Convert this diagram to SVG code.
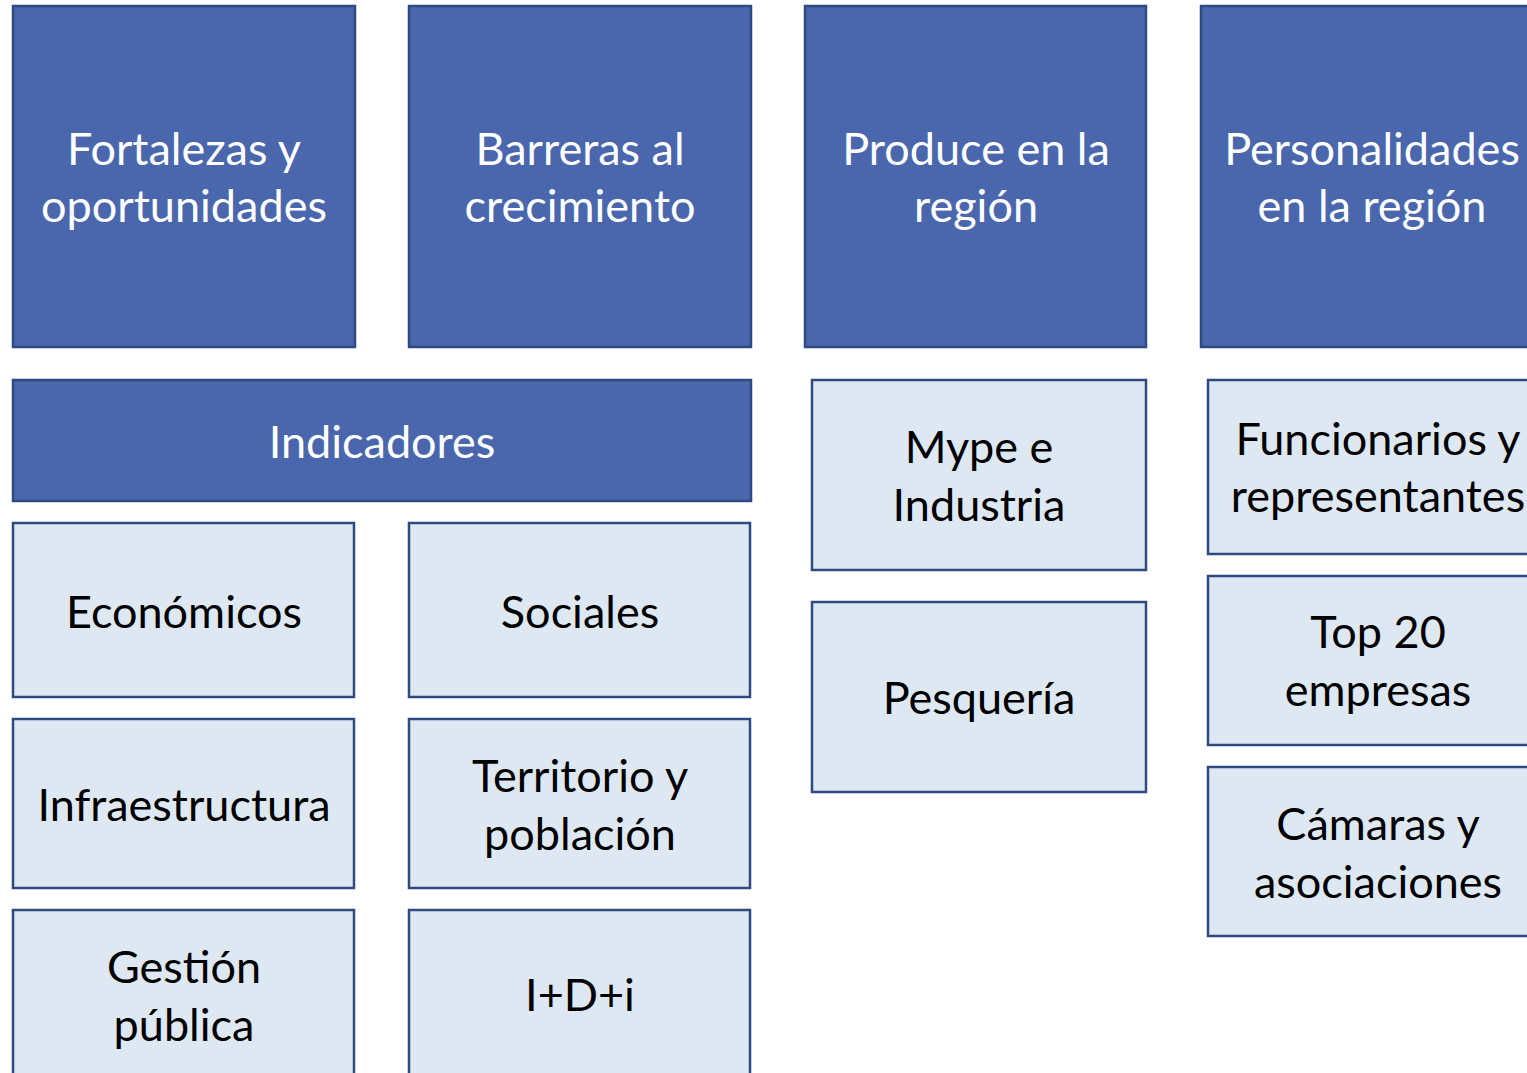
<svg xmlns="http://www.w3.org/2000/svg" width="1527" height="1073" viewBox="0 0 1527 1073">
<style>
.d{fill:#4A67AD;stroke:#2F4A80;stroke-width:2.5}
.l{fill:#DEE8F3;stroke:#2F4A80;stroke-width:2.5}
text{font-family:Lato,"Liberation Sans",sans-serif;font-size:45px;text-anchor:middle}
.w{fill:#FFFFFF}
.k{fill:#000000}
</style>
<rect width="1527" height="1073" fill="#FFFFFF"/>
<g id="connectors"></g>
<g id="n-fortalezas"><rect class="d" x="13" y="6" width="342" height="341"/><text class="w" x="184" y="165">Fortalezas y</text><text class="w" x="184" y="222">oportunidades</text></g>
<g id="n-barreras"><rect class="d" x="409" y="6" width="342" height="341"/><text class="w" x="580" y="165">Barreras al</text><text class="w" x="580" y="222">crecimiento</text></g>
<g id="n-produce"><rect class="d" x="805" y="6" width="341" height="341"/><text class="w" x="976" y="165">Produce en la</text><text class="w" x="976" y="222">región</text></g>
<g id="n-personalidades"><rect class="d" x="1201" y="6" width="342" height="341"/><text class="w" x="1372" y="165">Personalidades</text><text class="w" x="1372" y="222">en la región</text></g>
<g id="n-indicadores"><rect class="d" x="13" y="380" width="738" height="121"/><text class="w" x="382" y="458">Indicadores</text></g>
<g id="n-economicos"><rect class="l" x="13" y="523" width="341" height="174"/><text class="k" x="184" y="628">Económicos</text></g>
<g id="n-sociales"><rect class="l" x="409" y="523" width="341" height="174"/><text class="k" x="580" y="628">Sociales</text></g>
<g id="n-infraestructura"><rect class="l" x="13" y="719" width="341" height="169"/><text class="k" x="184" y="821">Infraestructura</text></g>
<g id="n-territorio"><rect class="l" x="409" y="719" width="341" height="169"/><text class="k" x="580" y="792">Territorio y</text><text class="k" x="580" y="850">población</text></g>
<g id="n-gestion"><rect class="l" x="13" y="910" width="341" height="180"/><text class="k" x="184" y="983">Gestión</text><text class="k" x="184" y="1041">pública</text></g>
<g id="n-idi"><rect class="l" x="409" y="910" width="341" height="180"/><text class="k" x="580" y="1011">I+D+i</text></g>
<g id="n-mype"><rect class="l" x="812" y="380" width="334" height="190"/><text class="k" x="979" y="463">Mype e</text><text class="k" x="979" y="521">Industria</text></g>
<g id="n-pesqueria"><rect class="l" x="812" y="602" width="334" height="190"/><text class="k" x="979" y="714">Pesquería</text></g>
<g id="n-funcionarios"><rect class="l" x="1208" y="380" width="341" height="174"/><text class="k" x="1378" y="455">Funcionarios y</text><text class="k" x="1378" y="512">representantes</text></g>
<g id="n-top20"><rect class="l" x="1208" y="576" width="341" height="169"/><text class="k" x="1378" y="648">Top 20</text><text class="k" x="1378" y="706">empresas</text></g>
<g id="n-camaras"><rect class="l" x="1208" y="767" width="341" height="169"/><text class="k" x="1378" y="840">Cámaras y</text><text class="k" x="1378" y="898">asociaciones</text></g>
</svg>
